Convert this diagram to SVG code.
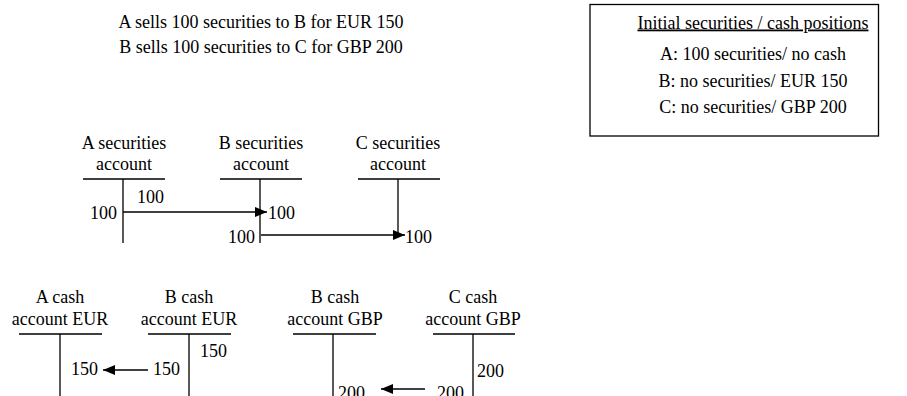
<svg xmlns="http://www.w3.org/2000/svg" width="907" height="396" viewBox="0 0 907 396">
<style>
text{font-family:"Liberation Serif","Times New Roman",serif;font-size:18px;fill:#000}
.c{text-anchor:middle}
.e{text-anchor:end}
.ln{stroke:#000;stroke-width:1.3;fill:none}
.ar{stroke:#000;stroke-width:1.3;fill:none;marker-end:url(#ah)}
</style>
<defs>
<marker id="ah" markerUnits="userSpaceOnUse" markerWidth="12" markerHeight="10" refX="12" refY="5" orient="auto">
<path d="M0,0 L12,5 L0,10 Z" fill="#000"/>
</marker>
</defs>
<rect width="907" height="396" fill="#fff"/>
<g id="title">
<text class="c" x="261" y="28">A sells 100 securities to B for EUR 150</text>
<text class="c" x="261" y="52.5">B sells 100 securities to C for GBP 200</text>
</g>
<g id="initial-positions">
<rect class="ln" x="590" y="4.5" width="288.5" height="131.5"/>
<text class="c" x="753" y="28.5" text-decoration="underline">Initial securities / cash positions</text>
<text class="c" x="753" y="60">A: 100 securities/ no cash</text>
<text class="c" x="753" y="86.5">B: no securities/ EUR 150</text>
<text class="c" x="753" y="112.5">C: no securities/ GBP 200</text>
</g>
<g id="a-securities">
<text class="c" x="124" y="148.5">A securities</text>
<text class="c" x="124" y="169.5">account</text>
<path class="ln" d="M83,179 H165 M123,179 V243"/>
<text class="e" x="117" y="219">100</text>
<text x="137" y="203">100</text>
</g>
<g id="b-securities">
<text class="c" x="261" y="148.5">B securities</text>
<text class="c" x="261" y="169.5">account</text>
<path class="ln" d="M220,179 H302 M260,179 V243"/>
<text x="268" y="219">100</text>
<text class="e" x="255" y="243">100</text>
</g>
<g id="c-securities">
<text class="c" x="398" y="148.5">C securities</text>
<text class="c" x="398" y="169.5">account</text>
<path class="ln" d="M358,179 H440 M398,179 V236"/>
<text x="405" y="243">100</text>
</g>
<g id="a-cash-eur">
<text class="c" x="60" y="303">A cash</text>
<text class="c" x="60" y="325">account EUR</text>
<path class="ln" d="M19,334 H102 M60,334 V396"/>
<text class="e" x="98" y="375">150</text>
</g>
<g id="b-cash-eur">
<text class="c" x="189" y="303">B cash</text>
<text class="c" x="189" y="325">account EUR</text>
<path class="ln" d="M148,334 H231 M189,334 V396"/>
<text x="200" y="357">150</text>
<text class="e" x="180" y="375">150</text>
</g>
<g id="b-cash-gbp">
<text class="c" x="335" y="303">B cash</text>
<text class="c" x="335" y="325">account GBP</text>
<path class="ln" d="M293,334 H376 M333,334 V396"/>
<text x="338" y="399">200</text>
</g>
<g id="c-cash-gbp">
<text class="c" x="473" y="303">C cash</text>
<text class="c" x="473" y="325">account GBP</text>
<path class="ln" d="M433,334 H515 M473,334 V396"/>
<text x="477" y="377">200</text>
<text x="437" y="399">200</text>
</g>
<g id="connectors">
<path class="ar" d="M123,212 H267"/>
<path class="ar" d="M261,235 H405"/>
<path class="ar" d="M148,370 H103"/>
<path class="ar" d="M425,389 H381"/>
</g>
</svg>
